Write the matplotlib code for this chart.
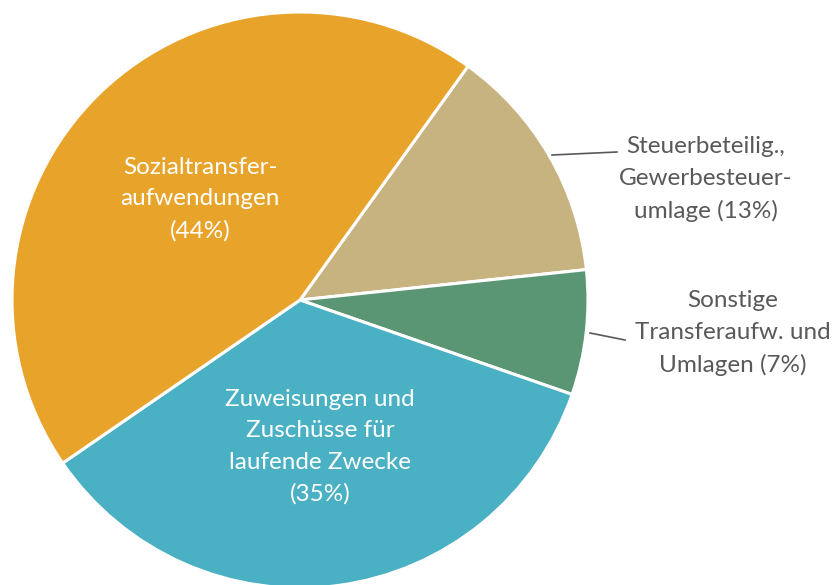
import matplotlib.pyplot as plt

labels = ["Steuerbeteilig.,\nGewerbesteuer-\numlage (13%)",
          "Sonstige\nTransferaufw. und\nUmlagen (7%)",
          "Zuweisungen und\nZuschüsse für\nlaufende Zwecke\n(35%)",
          "Sozialtransfer-\naufwendungen\n(44%)"]
values = [13.4, 7.0, 35.1, 44.5]
colors = ["#C7B37F", "#5A9674", "#4AB0C3", "#E8A32A"]

W, H = 835, 585
fig = plt.figure(figsize=(W / 100, H / 100), dpi=100)
ax = fig.add_axes([0, 0, 1, 1])

cx, cy, r = 300, H - 300, 288
ax.pie(values, colors=colors, startangle=54.3, counterclock=False,
       center=(cx, cy), radius=r, frame=True,
       wedgeprops=dict(edgecolor="white", linewidth=2.2))
ax.set_xlim(0, W)
ax.set_ylim(0, H)
ax.set_aspect("equal")
ax.axis("off")

font = dict(family="Lato", fontsize=17.5, linespacing=1.6, ha="center", va="center")
txt = "#595959"

# outside labels with leader lines
ax.text(706, H - 179, labels[0], color=txt, **font)
ax.plot([552, 617], [H - 155, H - 152], color=txt, lw=1.2)
ax.text(733, H - 333, labels[1], color=txt, **font)
ax.plot([590, 625], [H - 333, H - 340], color=txt, lw=1.2)

# inside labels
ax.text(320, H - 447, labels[2], color="white", **font)
ax.text(200, H - 199, labels[3], color="white", **font)

fig.savefig("out.png", dpi=100)
